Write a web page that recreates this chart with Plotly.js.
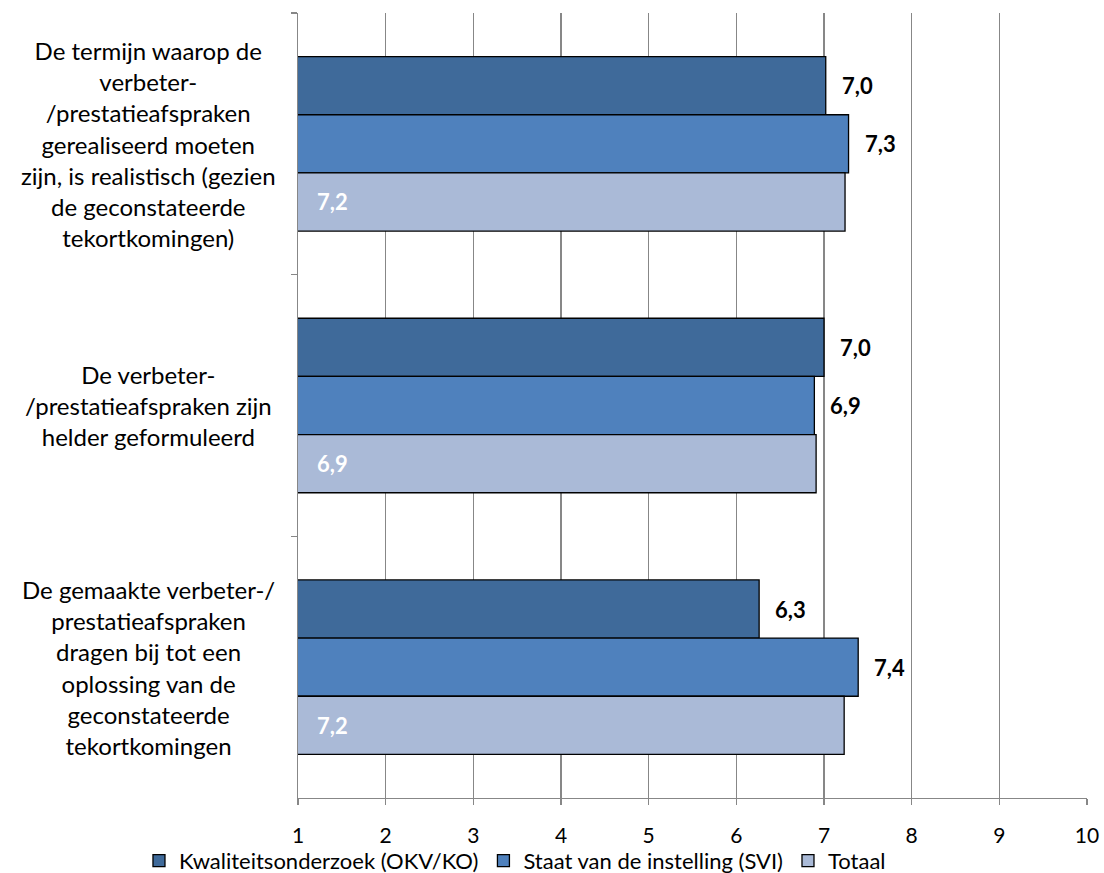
<!DOCTYPE html>
<html>
<head>
<meta charset="utf-8">
<script src="https://cdn.plot.ly/plotly-3.0.1.min.js"></script>
<style>html,body{margin:0;padding:0;background:#fff;}#chart{width:1104px;height:873px;}</style>
</head>
<body>
<div id="chart"></div>
<script>
var categories = [
  "De termijn waarop de<br>verbeter-<br>/prestatieafspraken<br>gerealiseerd moeten<br>zijn, is realistisch (gezien<br>de geconstateerde<br>tekortkomingen)",
  "De verbeter-<br>/prestatieafspraken zijn<br>helder geformuleerd",
  "De gemaakte verbeter-/<br>prestatieafspraken<br>dragen bij tot een<br>oplossing van de<br>geconstateerde<br>tekortkomingen"
];
var seriesNames = ["Kwaliteitsonderzoek (OKV/KO)", "Staat van de instelling (SVI)", "Totaal"];
var okv = [7.02, 7.00, 6.26];
var svi = [7.28, 6.89, 7.39];
var totaal = [7.24, 6.91, 7.23];
var xTicks = [1, 2, 3, 4, 5, 6, 7, 8, 9, 10];

var colors = ["#3F6A9A", "#4F81BD", "#AABAD7"];
var FONT = "Lato, 'Open Sans', sans-serif";
var seriesVals = [okv, svi, totaal];

function fmt(v) { return v.toFixed(1).replace('.', ','); }

var traces = seriesVals.map(function (vals, i) {
  return {
    type: 'bar', orientation: 'h',
    name: seriesNames[i],
    y: categories, x: vals,
    marker: { color: colors[i], line: { color: '#000', width: 1.3 } },
    hoverinfo: 'none'
  };
});

var annotations = [];
categories.forEach(function (c) {
  annotations.push({
    xref: 'paper', yref: 'y', x: -0.189, y: c, xanchor: 'center', yanchor: 'middle',
    text: c, showarrow: false, align: 'center',
    font: { family: FONT, size: 24, color: '#000' }
  });
});
var shifts = [58, 0, -58];
categories.forEach(function (c, j) {
  [0, 1].forEach(function (i) {
    annotations.push({
      xref: 'x', yref: 'y', x: seriesVals[i][j], y: c, yshift: shifts[i],
      xanchor: 'left', yanchor: 'middle', xshift: 14,
      text: '<b>' + fmt(seriesVals[i][j]) + '</b>', showarrow: false,
      font: { family: FONT, size: 22, color: '#000' }
    });
  });
  annotations.push({
    xref: 'x', yref: 'y', x: 1, y: c, yshift: shifts[2],
    xanchor: 'left', yanchor: 'middle', xshift: 17,
    text: '<b>' + fmt(totaal[j]) + '</b>', showarrow: false,
    font: { family: FONT, size: 22, color: '#fff' }
  });
});

var layout = {
  width: 1104, height: 873,
  margin: { l: 298, r: 17, t: 13, b: 75, autoexpand: false },
  paper_bgcolor: '#fff', plot_bgcolor: '#fff',
  barmode: 'group', bargap: 0.333, bargroupgap: 0,
  showlegend: true,
  legend: {
    orientation: 'h', x: 0.275, xanchor: 'center', y: -0.08, yanchor: 'middle',
    bgcolor: 'rgba(0,0,0,0)',
    font: { family: FONT, size: 22, color: '#000' },
    traceorder: 'normal', itemwidth: 30
  },
  xaxis: {
    range: [1, 10], tickvals: xTicks, ticktext: xTicks.map(String),
    showgrid: true, gridcolor: '#878787', gridwidth: 1.3,
    showline: true, linecolor: '#878787', linewidth: 1.3,
    ticks: 'outside', ticklen: 6, tickcolor: '#878787', tickwidth: 1.3,
    ticklabelstandoff: 12,
    zeroline: false, fixedrange: true,
    tickfont: { family: FONT, size: 21, color: '#000' }
  },
  yaxis: {
    type: 'category', autorange: 'reversed',
    showticklabels: false, tickson: 'boundaries',
    ticks: 'outside', ticklen: 6, tickcolor: '#878787', tickwidth: 1.3,
    showline: true, linecolor: '#878787', linewidth: 1.3,
    showgrid: false, zeroline: false, fixedrange: true
  },
  annotations: annotations
};

Plotly.newPlot('chart', traces, layout, { displayModeBar: false, staticPlot: true });
</script>
</body>
</html>
